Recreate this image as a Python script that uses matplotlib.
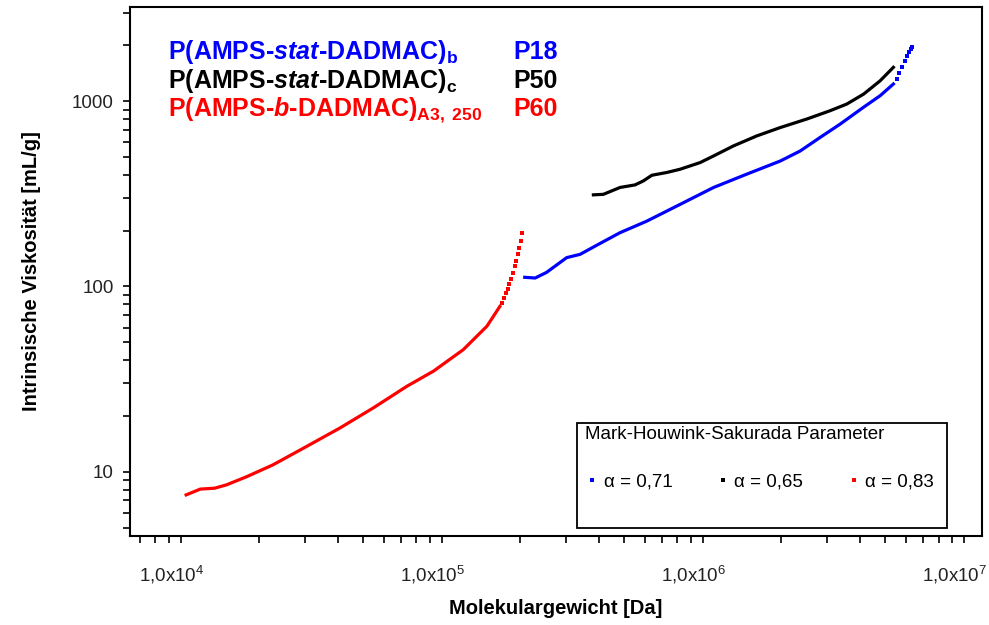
import numpy as np
import matplotlib
matplotlib.use('Agg')
import matplotlib.pyplot as plt
from matplotlib.ticker import LogLocator, FuncFormatter, NullFormatter
from matplotlib.lines import Line2D
from matplotlib.patches import Rectangle
from matplotlib.transforms import ScaledTranslation

plt.rcParams['font.family'] = ['Liberation Sans', 'DejaVu Sans']
plt.rcParams['mathtext.fontset'] = 'custom'
plt.rcParams['mathtext.rm'] = 'Liberation Sans'
plt.rcParams['mathtext.it'] = 'Liberation Sans:italic'
plt.rcParams['mathtext.bf'] = 'Liberation Sans:bold'
plt.rcParams['mathtext.bfit'] = 'Liberation Sans:italic:bold'

# ---------------- data ----------------
# P18: P(AMPS-stat-DADMAC)_b  (blue)
p18_M = [2.08e5, 2.28e5, 2.52e5, 3.01e5, 3.39e5, 3.93e5, 4.82e5, 6.1e5, 8.18e5,
         1.1e6, 1.47e6, 1.98e6, 2.36e6, 2.81e6, 3.36e6, 4.12e6, 4.78e6, 5.37e6]
p18_eta = [112, 111, 119, 143, 149, 167, 195, 225, 277,
           342, 403, 475, 538, 636, 752, 925, 1070, 1237]
p18_tail_M = [5.52e6, 5.66e6, 5.79e6, 5.96e6, 6.05e6, 6.17e6, 6.28e6, 6.35e6]
p18_tail_eta = [1320, 1420, 1522, 1652, 1758, 1833, 1910, 1950]

# P50: P(AMPS-stat-DADMAC)_c  (black)
p50_M = [3.81e5, 4.16e5, 4.82e5, 5.5e5, 5.92e5, 6.38e5, 7.28e5, 8.19e5, 9.77e5,
         1.1e6, 1.31e6, 1.61e6, 1.98e6, 2.5e6, 3.07e6, 3.56e6, 4.13e6, 4.78e6, 5.37e6]
p50_eta = [312, 314, 342, 353, 371, 398, 412, 429, 466,
           506, 573, 649, 720, 800, 887, 964, 1091, 1288, 1522]

# P60: P(AMPS-b-DADMAC)_A3,250  (red)
p60_M = [1.05e4, 1.19e4, 1.35e4, 1.5e4, 1.79e4, 2.26e4, 3.04e4, 4.07e4, 5.47e4,
         7.35e4, 9.3e4, 1.21e5, 1.49e5, 1.67e5]
p60_eta = [7.5, 8.06, 8.15, 8.5, 9.4, 10.9, 13.7, 17.2, 22.1,
           28.9, 34.9, 45.6, 61, 78]
p60_tail_M = [1.698e5, 1.733e5, 1.764e5, 1.790e5, 1.816e5, 1.843e5, 1.881e5,
              1.909e5, 1.926e5, 1.955e5, 1.983e5, 2.007e5, 2.025e5]
p60_tail_eta = [81.6, 86.9, 91.7, 97.2, 102.5, 110.1, 118.6,
                128.8, 137.0, 148.9, 161.9, 175.8, 193.4]

series_names = ["P(AMPS-$\\mathbfit{stat}$-DADMAC)$_{\\mathbf{b}}$",
                "P(AMPS-$\\mathbfit{stat}$-DADMAC)$_{\\mathbf{c}}$",
                "P(AMPS-$\\mathbfit{b}$-DADMAC)$_{\\mathbf{A3,\\ 250}}$"]
series_codes = ["P18", "P50", "P60"]
series_colors = ["#0000FF", "#000000", "#FF0000"]
alpha_labels = ["α = 0,71", "α = 0,65", "α = 0,83"]
legend_title = "Mark-Houwink-Sakurada Parameter"
xlabel = "Molekulargewicht [Da]"
ylabel = "Intrinsische Viskosität [mL/g]"

# ---------------- figure ----------------
fig = plt.figure(figsize=(9.89, 6.25), dpi=100)
ax = fig.add_axes([130 / 989, 89 / 625, 851.7 / 989, 529 / 625])
ax.set_xscale('log')
ax.set_yscale('log')
ax.set_xlim(6.4e3, 1.17e7)
ax.set_ylim(4.5, 3220)

lw = 2.3
ax.plot(p18_M, p18_eta, color=series_colors[0], lw=lw)
ax.plot(p18_tail_M, p18_tail_eta, ls='none', marker='s', ms=2.4, mew=0,
        color=series_colors[0])
ax.plot(p50_M, p50_eta, color=series_colors[1], lw=lw)
ax.plot(p60_M, p60_eta, color=series_colors[2], lw=lw)
ax.plot(p60_tail_M, p60_tail_eta, ls='none', marker='s', ms=2.4, mew=0,
        color=series_colors[2])

# ticks
ax.xaxis.set_major_locator(LogLocator(base=10, numticks=20))
ax.xaxis.set_minor_locator(LogLocator(base=10, subs=np.arange(2, 10), numticks=20))
ax.yaxis.set_major_locator(LogLocator(base=10, numticks=20))
ax.yaxis.set_minor_locator(LogLocator(base=10, subs=np.arange(2, 10), numticks=20))
ax.xaxis.set_major_formatter(FuncFormatter(
    lambda v, p: "1,0x10$^{%d}$" % int(round(np.log10(v)))))
ax.yaxis.set_major_formatter(FuncFormatter(lambda v, p: "%d" % int(round(v))))
ax.xaxis.set_minor_formatter(NullFormatter())
ax.yaxis.set_minor_formatter(NullFormatter())
ax.tick_params(which='both', direction='out', length=5.3, width=1.2, color='black',
               labelsize=13.5, labelcolor='#222222')
ax.tick_params(axis='x', which='both', pad=14.5)
ax.tick_params(axis='y', which='both', pad=6.5)
for s in ax.spines.values():
    s.set_linewidth(1.5)

ax.set_xlabel(xlabel, fontsize=14.5, fontweight='bold')
ax.set_ylabel(ylabel, fontsize=14.5, fontweight='bold')
ax.xaxis.set_label_coords(0.5, -0.119)
ax.yaxis.set_label_coords(-0.105, 0.5)

# series labels (top left)
rows_y = [0.9017, 0.8478, 0.794]
for name, code, col, yy in zip(series_names, series_codes, series_colors, rows_y):
    ax.text(0.0446, yy, name, transform=ax.transAxes, color=col, fontsize=18,
            fontweight='bold', va='baseline', ha='left')
    ax.text(0.4497, yy, code, transform=ax.transAxes, color=col, fontsize=18,
            fontweight='bold', va='baseline', ha='left')

# legend box
ax.add_patch(Rectangle((0.5248, 0.0151), 0.4344, 0.1985, transform=ax.transAxes,
                       facecolor='white', edgecolor='black', lw=1.3, zorder=4))
handles = [Line2D([], [], ls='none', marker='s', ms=3.2, mew=0, color=c)
           for c in series_colors]
leg = ax.legend(handles, alpha_labels, ncol=3, loc='upper left',
                bbox_to_anchor=(0.5342, 0.207), title=legend_title,
                frameon=False, fontsize=13.5, title_fontsize=13.5,
                alignment='left', handlelength=0.8, handletextpad=0.2,
                columnspacing=2.3, borderpad=0, borderaxespad=0,
                labelspacing=1.6)
leg.set_zorder(5)

# x tick labels sit slightly left of their ticks, as in the reference
fig.canvas.draw()
shift = ScaledTranslation(-9 / 100, 0, fig.dpi_scale_trans)
for t in ax.xaxis.get_major_ticks():
    t.label1.set_transform(t.label1.get_transform() + shift)

fig.savefig('out.png', dpi=100)
